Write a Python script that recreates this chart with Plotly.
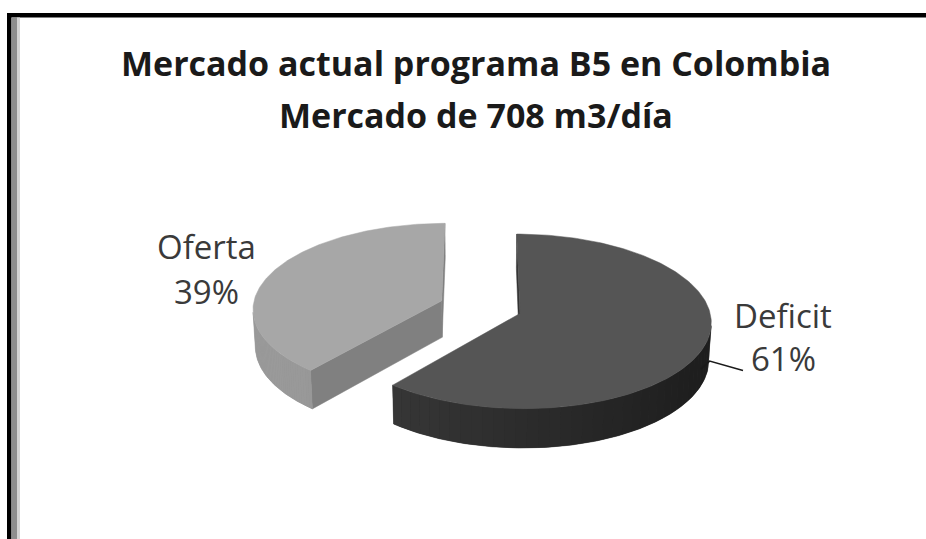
import numpy as np
import plotly.graph_objects as go

# ---------------- data ----------------
labels = ["Deficit", "Oferta"]
values = [61, 39]
title_lines = ["Mercado actual programa B5 en Colombia", "Mercado de 708 m3/día"]

# ---------------- style ----------------
top_colors = ["#555555", "#a7a7a7"]
side_light = ["#3c3c3c", "#9b9b9b"]
side_dark = ["#1c1c1c", "#8c8c8c"]
cut_colors = ["#333333", "#808080"]
label_pos = {"Deficit": (783, 315, 358), "Oferta": (206, 246, 291)}

W, H = 926, 539
D = 10.0
phi = np.radians(28)
f = 1870.0
cx, cy = 480.6, 343.8
h = 0.22
explode = 0.22
cam = np.array([0.0, -D * np.cos(phi), D * np.sin(phi)])


def proj(X, Y, Z):
    X = np.asarray(X, float)
    Y = np.asarray(Y, float)
    Z = np.asarray(Z, float)
    depth = D + Y * np.cos(phi) - Z * np.sin(phi)
    w = Y * np.sin(phi) + Z * np.cos(phi)
    return cx + f * X / depth, cy - f * w / depth


def hexmix(c1, c2, t):
    a = np.array([int(c1[i:i + 2], 16) for i in (1, 3, 5)], float)
    b = np.array([int(c2[i:i + 2], 16) for i in (1, 3, 5)], float)
    c = a + (b - a) * t
    return "rgb(%d,%d,%d)" % tuple(np.round(c).astype(int))


fig = go.Figure()


def poly(xs, ys, color, lw=0.0):
    xs = list(xs) + [xs[0]]
    ys = list(ys) + [ys[0]]
    fig.add_trace(go.Scatter(x=xs, y=ys, mode="lines", fill="toself",
                             fillcolor=color,
                             line=dict(color=color, width=lw),
                             hoverinfo="skip", showlegend=False))


total = float(sum(values))
slices = []
cum = 0.0
for i, v in enumerate(values):
    a0 = 90 - 360 * cum / total
    a1 = 90 - 360 * (cum + v) / total
    cum += v
    slices.append((i, np.radians(a1), np.radians(a0)))

# draw back slice (Oferta) first, then Deficit
for i, t1, t0 in sorted(slices, key=lambda s: -np.sin((s[1] + s[2]) / 2)):
    mid = (t0 + t1) / 2
    ox, oy = explode * np.cos(mid), explode * np.sin(mid)

    # radial cut faces
    for ang, sgn in ((t0, 1), (t1, -1)):
        n = np.array([np.cos(ang + sgn * np.pi / 2), np.sin(ang + sgn * np.pi / 2), 0])
        P = np.array([ox + 0.5 * np.cos(ang), oy + 0.5 * np.sin(ang), h / 2])
        if np.dot(n, cam - P) > 0:
            X = [ox, ox + np.cos(ang), ox + np.cos(ang), ox]
            Y = [oy, oy + np.sin(ang), oy + np.sin(ang), oy]
            Z = [h, h, 0, 0]
            px, py = proj(X, Y, Z)
            poly(px, py, cut_colors[i], 0.5)

    # outer side: visible angle range
    ts = np.linspace(t1, t0, 400)
    vis = []
    for m in ts:
        n = np.array([np.cos(m), np.sin(m), 0])
        P = np.array([ox + np.cos(m), oy + np.sin(m), h / 2])
        vis.append(np.dot(n, cam - P) > 0)
    vis = np.array(vis)
    if vis.any():
        tv = ts[vis]
        X = np.concatenate([ox + np.cos(tv), ox + np.cos(tv[::-1])])
        Y = np.concatenate([oy + np.sin(tv), oy + np.sin(tv[::-1])])
        Z = np.concatenate([np.full(len(tv), h), np.zeros(len(tv))])
        px, py = proj(X, Y, Z)
        poly(px, py, hexmix(side_light[i], side_dark[i], 0.5), 0.5)
        edges = np.linspace(tv[0], tv[-1], 40)
        for a, b in zip(edges[:-1], edges[1:]):
            m = (a + b) / 2
            seg = np.linspace(a, b, 4)
            X = np.concatenate([ox + np.cos(seg), ox + np.cos(seg[::-1])])
            Y = np.concatenate([oy + np.sin(seg), oy + np.sin(seg[::-1])])
            Z = np.concatenate([np.full(4, h), np.zeros(4)])
            px, py = proj(X, Y, Z)
            tt = (np.cos(m) + 1) / 2
            poly(px, py, hexmix(side_light[i], side_dark[i], tt), 0.0)

    # top face
    ts = np.linspace(t1, t0, 200)
    X = np.concatenate([[ox], ox + np.cos(ts)])
    Y = np.concatenate([[oy], oy + np.sin(ts)])
    Z = np.full(len(X), h)
    px, py = proj(X, Y, Z)
    poly(px, py, top_colors[i], 0.5)

# leader line for Deficit
di = labels.index("Deficit")
_, t1d, t0d = slices[di]
midd = (t0d + t1d) / 2
lx, ly = proj(explode * np.cos(midd) + np.cos(np.radians(-24)),
              explode * np.sin(midd) + np.sin(np.radians(-24)), h * 0.5)
lx, ly = float(lx), float(ly)
fig.add_trace(go.Scatter(x=[lx, lx + 9, 743], y=[ly, ly - 8, 370.5],
                         mode="lines", line=dict(color="#1a1a1a", width=1.6),
                         hoverinfo="skip", showlegend=False))

annotations = []
for lab, v in zip(labels, values):
    x, y1, y2 = label_pos[lab]
    for txt, yy in ((lab, y1), ("%d%%" % v, y2)):
        annotations.append(dict(x=x, y=yy, xref="x", yref="y", text=txt, showarrow=False,
                                xanchor="center", yanchor="middle",
                                font=dict(family="Open Sans", size=33, color="#3a3a3a")))
for txt, yy in zip(title_lines, (63, 115)):
    annotations.append(dict(x=476, y=yy, xref="x", yref="y", text="<b>%s</b>" % txt,
                            showarrow=False, xanchor="center", yanchor="middle",
                            font=dict(family="Open Sans", size=34, color="#1a1a1a")))

shapes = [
    dict(type="rect", xref="x", yref="y", x0=7, x1=926, y0=13, y1=17.5,
         fillcolor="#000000", line=dict(width=0), layer="above"),
    dict(type="rect", xref="x", yref="y", x0=7, x1=11.5, y0=13, y1=539,
         fillcolor="#000000", line=dict(width=0), layer="above"),
    dict(type="rect", xref="x", yref="y", x0=11.5, x1=17, y0=17.5, y1=539,
         fillcolor="#8e8e8e", line=dict(width=0), layer="above"),
    dict(type="rect", xref="x", yref="y", x0=17, x1=20, y0=17.5, y1=539,
         fillcolor="#d4d4d4", line=dict(width=0), layer="above"),
]

fig.update_layout(
    width=W, height=H, margin=dict(l=0, r=0, t=0, b=0),
    paper_bgcolor="white", plot_bgcolor="white",
    xaxis=dict(range=[0, W], visible=False, fixedrange=True),
    yaxis=dict(range=[H, 0], visible=False, fixedrange=True),
    annotations=annotations, shapes=shapes, showlegend=False,
)
fig.write_html("out.html")
